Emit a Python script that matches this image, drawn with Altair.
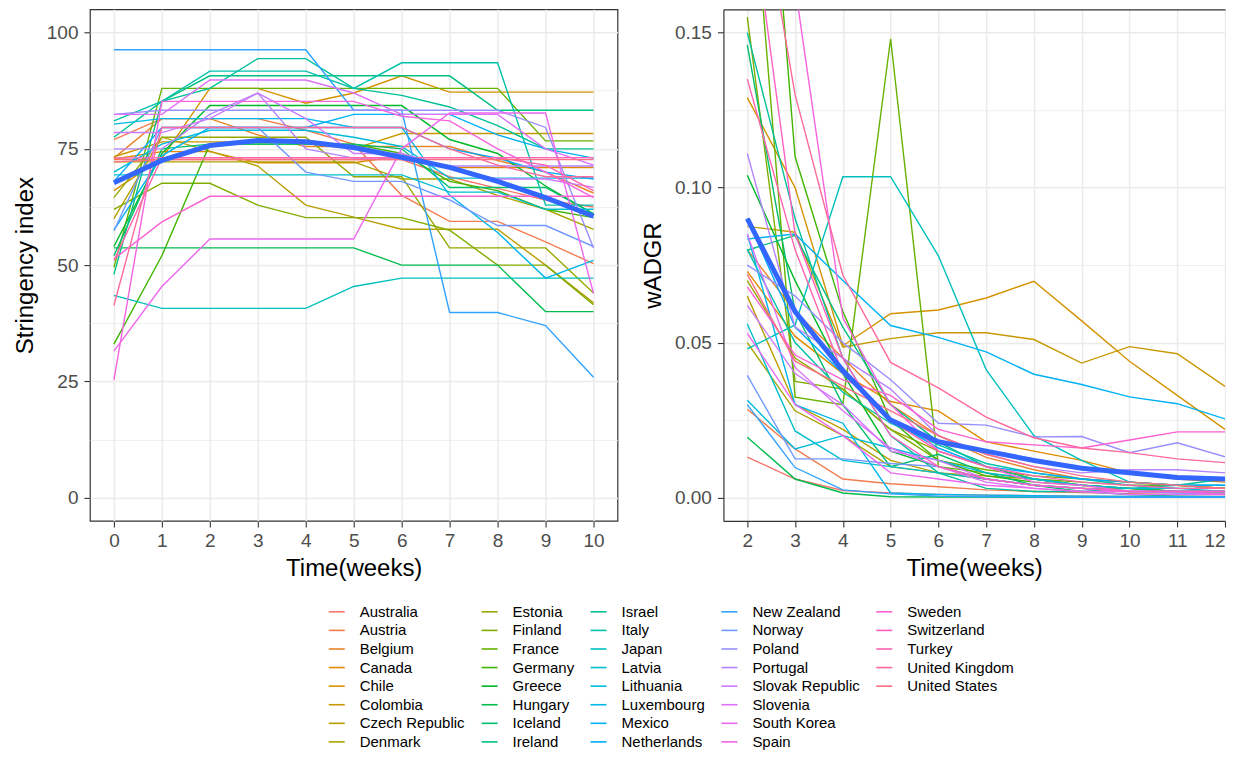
import math
import altair as alt
import pandas as pd

# ---------------- data ----------------
countries = ["Australia", "Austria", "Belgium", "Canada", "Chile", "Colombia",
             "Czech Republic", "Denmark", "Estonia", "Finland", "France", "Germany",
             "Greece", "Hungary", "Iceland", "Ireland", "Israel", "Italy", "Japan",
             "Latvia", "Lithuania", "Luxembourg", "Mexico", "Netherlands",
             "New Zealand", "Norway", "Poland", "Portugal", "Slovak Republic",
             "Slovenia", "South Korea", "Spain", "Sweden", "Switzerland", "Turkey",
             "United Kingdom", "United States"]

weeks_si = [0, 1, 2, 3, 4, 5, 6, 7, 8, 9, 10]
weeks_gr = [2, 3, 4, 5, 6, 7, 8, 9, 10, 11, 12]

# Stringency index by week (0..10)
si_australia = [72.7, 72.7, 72.7, 72.7, 72.7, 72.7, 72.7, 69.0, 66.5, 64.0, 62.5]
si_austria = [77.0, 81.5, 81.5, 81.5, 79.0, 76.0, 65.0, 59.4, 59.4, 55.0, 50.3]
si_belgium = [73.0, 81.5, 81.5, 78.0, 75.5, 75.5, 75.5, 75.5, 72.5, 70.0, 65.5]
si_canada = [72.8, 74.4, 74.4, 72.0, 72.0, 72.0, 73.5, 71.0, 71.0, 71.0, 71.0]
si_chile = [66.0, 73.0, 88.0, 88.0, 84.8, 87.0, 90.7, 87.2, 87.2, 87.2, 87.2]
si_colombia = [73.3, 76.5, 76.5, 76.5, 76.5, 75.0, 78.3, 78.3, 78.3, 78.3, 78.3]
si_czech = [60.0, 77.5, 74.5, 71.3, 62.9, 60.3, 57.7, 57.7, 57.7, 50.0, 41.9]
si_denmark = [72.2, 72.2, 72.2, 72.2, 72.2, 72.2, 68.5, 68.5, 65.0, 62.0, 57.7]
si_estonia = [64.5, 77.5, 77.5, 77.5, 77.5, 69.0, 69.0, 53.7, 53.7, 53.7, 44.0]
si_finland = [62.0, 67.6, 67.6, 62.9, 60.2, 60.2, 60.2, 57.5, 50.0, 50.0, 41.5]
si_france = [49.5, 88.0, 88.0, 88.0, 88.0, 88.0, 88.0, 88.0, 88.0, 76.7, 76.7]
si_germany = [33.0, 52.0, 76.0, 76.0, 76.0, 76.0, 74.0, 68.0, 66.0, 62.0, 60.2]
si_greece = [54.0, 74.0, 84.3, 84.3, 84.3, 84.3, 84.3, 77.0, 74.0, 67.0, 61.0]
si_hungary = [53.7, 53.7, 53.7, 53.7, 53.7, 53.7, 50.0, 50.0, 50.0, 40.0, 40.0]
si_iceland = [52.0, 75.0, 76.0, 76.0, 76.0, 76.0, 75.0, 66.7, 66.7, 66.7, 61.0]
si_ireland = [48.0, 85.2, 90.7, 90.7, 90.7, 90.7, 90.7, 90.7, 83.3, 83.3, 83.3]
si_israel = [77.5, 85.2, 88.0, 94.4, 94.4, 88.0, 86.5, 84.0, 80.0, 75.0, 75.0]
si_italy = [81.0, 85.2, 91.7, 91.7, 91.7, 88.0, 93.5, 93.5, 93.5, 62.9, 62.9]
si_japan = [43.5, 40.7, 40.7, 40.7, 40.7, 45.4, 47.2, 47.2, 47.2, 47.2, 47.2]
si_latvia = [69.4, 69.4, 69.4, 69.4, 69.4, 69.4, 69.4, 65.7, 65.7, 62.0, 62.0]
si_lithuania = [70.0, 76.0, 79.0, 79.0, 79.0, 77.5, 75.5, 68.7, 68.7, 68.7, 68.7]
si_luxembourg = [80.3, 81.5, 81.5, 81.5, 81.5, 79.6, 79.6, 65.0, 57.0, 47.2, 51.0]
si_mexico = [57.5, 73.5, 79.6, 79.6, 79.6, 82.4, 82.4, 82.4, 78.0, 75.0, 73.0]
si_netherlands = [68.0, 79.6, 79.6, 79.6, 79.6, 79.6, 79.6, 75.0, 73.0, 70.0, 68.5]
si_new_zealand = [96.3, 96.3, 96.3, 96.3, 96.3, 83.3, 83.3, 39.8, 39.8, 37.0, 25.9]
si_norway = [57.4, 79.6, 79.6, 79.6, 70.0, 68.0, 68.0, 64.0, 58.5, 58.5, 54.0]
si_poland = [82.4, 83.3, 83.3, 83.3, 83.3, 83.3, 83.3, 83.3, 83.3, 79.6, 53.7]
si_portugal = [75.0, 75.0, 82.4, 87.0, 75.0, 73.0, 73.0, 71.3, 71.3, 71.3, 71.3]
si_slovak = [78.5, 78.5, 81.5, 87.0, 81.5, 74.0, 74.0, 71.0, 68.5, 68.5, 66.7]
si_slovenia = [82.4, 82.4, 89.8, 89.8, 89.8, 87.0, 82.4, 82.4, 82.4, 75.0, 71.5]
si_south_korea = [31.5, 45.4, 55.6, 55.6, 55.6, 55.6, 75.0, 82.7, 82.7, 82.7, 43.9]
si_spain = [25.3, 85.2, 85.2, 85.2, 85.2, 85.2, 82.0, 81.0, 75.0, 70.0, 64.5]
si_sweden = [51.3, 59.3, 64.8, 64.8, 64.8, 64.8, 64.8, 64.8, 64.8, 64.8, 64.8]
si_switzerland = [73.0, 73.1, 73.1, 73.1, 73.1, 73.1, 73.1, 73.1, 73.1, 73.1, 73.1]
si_turkey = [51.0, 73.1, 73.1, 73.1, 73.1, 73.1, 73.1, 73.1, 73.1, 71.5, 66.0]
si_uk = [41.3, 79.6, 79.6, 79.6, 79.6, 79.6, 79.6, 75.0, 71.5, 69.0, 69.0]
si_us = [72.2, 72.7, 72.7, 72.7, 72.7, 72.7, 72.7, 72.7, 72.7, 72.7, 72.7]
si_mean = [67.7, 72.5, 75.7, 76.8, 76.5, 75.3, 73.2, 71.0, 68.0, 64.5, 60.5]

# wADGR by week (2..12)
gr_australia = [0.0131, 0.0060, 0.0023, 0.0015, 0.0010, 0.0008, 0.0006, 0.0005, 0.0004, 0.0004, 0.0003]
gr_austria = [0.0285, 0.0157, 0.0060, 0.0045, 0.0035, 0.0025, 0.0020, 0.0016, 0.0013, 0.0010, 0.0010]
gr_belgium = [0.080, 0.060, 0.045, 0.030, 0.020, 0.013, 0.009, 0.006, 0.005, 0.004, 0.003]
gr_canada = [0.073, 0.052, 0.040, 0.031, 0.028, 0.018, 0.015, 0.012, 0.008, 0.006, 0.005]
gr_chile = [0.129, 0.100, 0.049, 0.0593, 0.0605, 0.0644, 0.0698, 0.057, 0.044, 0.033, 0.022]
gr_colombia = [0.0875, 0.0856, 0.0485, 0.0513, 0.0532, 0.0532, 0.051, 0.0434, 0.0487, 0.0464, 0.0359]
gr_czech = [0.065, 0.030, 0.022, 0.012, 0.008, 0.006, 0.004, 0.003, 0.003, 0.002, 0.002]
gr_denmark = [0.050, 0.028, 0.020, 0.010, 0.008, 0.007, 0.006, 0.004, 0.003, 0.002, 0.002]
gr_estonia = [0.070, 0.045, 0.035, 0.022, 0.015, 0.010, 0.006, 0.004, 0.003, 0.002, 0.001]
gr_finland = [0.155, 0.0375, 0.0350, 0.022, 0.012, 0.009, 0.007, 0.006, 0.005, 0.004, 0.003]
gr_france = [0.220, 0.0324, 0.030, 0.148, 0.010, 0.008, 0.006, 0.005, 0.004, 0.004, 0.003]
gr_germany = [0.300, 0.110, 0.060, 0.025, 0.012, 0.007, 0.005, 0.004, 0.003, 0.002, 0.002]
gr_greece = [0.104, 0.070, 0.040, 0.015, 0.010, 0.006, 0.004, 0.003, 0.002, 0.002, 0.002]
gr_hungary = [0.0195, 0.0060, 0.0015, 0.0003, 0.0002, 0.0002, 0.0001, 0.0001, 0.0001, 0.0001, 0.0001]
gr_iceland = [0.146, 0.060, 0.030, 0.010, 0.014, 0.008, 0.004, 0.002, 0.001, 0.0005, 0.0003]
gr_ireland = [0.0798, 0.0846, 0.055, 0.030, 0.018, 0.010, 0.006, 0.004, 0.003, 0.002, 0.002]
gr_israel = [0.150, 0.090, 0.045, 0.020, 0.008, 0.003, 0.002, 0.002, 0.003, 0.004, 0.006]
gr_italy = [0.080, 0.050, 0.034, 0.024, 0.017, 0.011, 0.008, 0.006, 0.004, 0.003, 0.003]
gr_japan = [0.048, 0.0557, 0.1035, 0.1035, 0.078, 0.0413, 0.020, 0.012, 0.005, 0.004, 0.004]
gr_latvia = [0.056, 0.0215, 0.012, 0.010, 0.008, 0.006, 0.004, 0.003, 0.002, 0.002, 0.002]
gr_lithuania = [0.0314, 0.0157, 0.020, 0.016, 0.012, 0.008, 0.006, 0.004, 0.003, 0.003, 0.002]
gr_luxembourg = [0.085, 0.030, 0.024, 0.0015, 0.0010, 0.0008, 0.0006, 0.0005, 0.0004, 0.0003, 0.0003]
gr_mexico = [0.0834, 0.085, 0.070, 0.0555, 0.0517, 0.047, 0.0398, 0.0365, 0.0325, 0.0303, 0.0254]
gr_netherlands = [0.090, 0.055, 0.040, 0.025, 0.016, 0.010, 0.008, 0.006, 0.005, 0.004, 0.004]
gr_new_zealand = [0.030, 0.0097, 0.0025, 0.0012, 0.0005, 0.0003, 0.0002, 0.0001, 0.0001, 0.0001, 0.0001]
gr_norway = [0.0394, 0.0125, 0.0125, 0.0110, 0.0100, 0.0060, 0.0040, 0.0030, 0.0020, 0.0015, 0.0012]
gr_poland = [0.075, 0.065, 0.050, 0.038, 0.024, 0.0234, 0.0196, 0.0197, 0.0145, 0.0177, 0.0132]
gr_portugal = [0.111, 0.055, 0.045, 0.035, 0.020, 0.014, 0.010, 0.008, 0.009, 0.009, 0.008]
gr_slovak = [0.062, 0.040, 0.030, 0.015, 0.012, 0.006, 0.004, 0.003, 0.002, 0.002, 0.002]
gr_slovenia = [0.085, 0.042, 0.028, 0.016, 0.010, 0.005, 0.003, 0.002, 0.001, 0.001, 0.001]
gr_south_korea = [0.053, 0.030, 0.020, 0.008, 0.006, 0.004, 0.003, 0.002, 0.002, 0.002, 0.002]
gr_spain = [0.250, 0.165, 0.058, 0.030, 0.015, 0.010, 0.005, 0.004, 0.002, 0.002, 0.001]
gr_sweden = [0.068, 0.046, 0.038, 0.033, 0.022, 0.018, 0.017, 0.016, 0.0186, 0.0212, 0.0212]
gr_switzerland = [0.200, 0.085, 0.045, 0.020, 0.010, 0.006, 0.004, 0.003, 0.002, 0.002, 0.002]
gr_turkey = [0.135, 0.080, 0.040, 0.025, 0.015, 0.010, 0.007, 0.005, 0.004, 0.003, 0.003]
gr_uk = [0.220, 0.130, 0.0718, 0.0436, 0.0354, 0.026, 0.0193, 0.016, 0.0145, 0.0125, 0.0113]
gr_us = [0.072, 0.044, 0.036, 0.028, 0.020, 0.014, 0.010, 0.007, 0.005, 0.004, 0.003]
gr_mean = [0.090, 0.060, 0.041, 0.025, 0.018, 0.015, 0.012, 0.0095, 0.008, 0.0065, 0.006]

si_series = [si_australia, si_austria, si_belgium, si_canada, si_chile, si_colombia,
             si_czech, si_denmark, si_estonia, si_finland, si_france, si_germany,
             si_greece, si_hungary, si_iceland, si_ireland, si_israel, si_italy, si_japan,
             si_latvia, si_lithuania, si_luxembourg, si_mexico, si_netherlands,
             si_new_zealand, si_norway, si_poland, si_portugal, si_slovak, si_slovenia,
             si_south_korea, si_spain, si_sweden, si_switzerland, si_turkey, si_uk, si_us]
gr_series = [gr_australia, gr_austria, gr_belgium, gr_canada, gr_chile, gr_colombia,
             gr_czech, gr_denmark, gr_estonia, gr_finland, gr_france, gr_germany,
             gr_greece, gr_hungary, gr_iceland, gr_ireland, gr_israel, gr_italy, gr_japan,
             gr_latvia, gr_lithuania, gr_luxembourg, gr_mexico, gr_netherlands,
             gr_new_zealand, gr_norway, gr_poland, gr_portugal, gr_slovak, gr_slovenia,
             gr_south_korea, gr_spain, gr_sweden, gr_switzerland, gr_turkey, gr_uk, gr_us]

x_si_breaks = [0, 1, 2, 3, 4, 5, 6, 7, 8, 9, 10]
y_si_breaks = [0, 25, 50, 75, 100]
x_gr_breaks = [2, 3, 4, 5, 6, 7, 8, 9, 10, 11, 12]
y_gr_breaks = [0.0, 0.05, 0.10, 0.15]


# ---------------- ggplot hue palette ----------------
def hcl_hex(h, c=100.0, l=65.0):
    hr = math.radians(h)
    U, V = c * math.cos(hr), c * math.sin(hr)
    wu, wv = 0.1978398, 0.4683363
    Y = 100.0 * ((l + 16) / 116) ** 3 if l > 8 else 100.0 * l / 903.3
    u = U / (13 * l) + wu
    v = V / (13 * l) + wv
    X = 9.0 * Y * u / (4 * v)
    Z = -X / 3 - 5 * Y + 3 * Y / v
    X, Y, Z = X / 100, Y / 100, Z / 100
    rgb = [3.240479 * X - 1.537150 * Y - 0.498535 * Z,
           -0.969256 * X + 1.875992 * Y + 0.041556 * Z,
           0.055648 * X - 0.204043 * Y + 1.057311 * Z]
    out = []
    for t in rgb:
        t = 12.92 * t if t <= 0.0031308 else 1.055 * t ** (1 / 2.4) - 0.055
        out.append(int(round(min(1, max(0, t)) * 255)))
    return "#%02X%02X%02X" % tuple(out)


n = len(countries)
palette = [hcl_hex(15 + 360.0 * i / n) for i in range(n)]

# legend: 8 rows x 5 columns filled column by column; empty slots padded
NROW, NCOL = 8, 5
n_blank = NROW * NCOL - n
leg_domain = countries + [" " * (k + 1) for k in range(n_blank)]
leg_range = palette + ["rgba(0,0,0,0)"] * n_blank

# ---------------- tables ----------------
rows_si = [{"country": ctry, "week": w, "value": v}
           for ctry, ser in zip(countries, si_series) for w, v in zip(weeks_si, ser)]
rows_gr = [{"country": ctry, "week": w, "value": v}
           for ctry, ser in zip(countries, gr_series) for w, v in zip(weeks_gr, ser)]
df_si = pd.DataFrame(rows_si)
df_gr = pd.DataFrame(rows_gr)
df_si_mean = pd.DataFrame({"week": weeks_si, "value": si_mean})
df_gr_mean = pd.DataFrame({"week": weeks_gr, "value": gr_mean})


def with_minor(breaks):
    vals = list(breaks)
    for a, b in zip(breaks[:-1], breaks[1:]):
        vals.append((a + b) / 2)
    return sorted(vals)


GRID = "#EBEBEB"
BORDER = "#333333"


def make_axis(values, major_test, fmt, title_pad, label_pad, **kw):
    minor = "!(" + major_test + ")"
    return alt.Axis(
        values=values,
        format=fmt,
        labelExpr="(" + major_test + ") ? datum.label : ''",
        labelOverlap=False,
        labelBound=False,
        tickOpacity={"condition": {"test": minor, "value": 0}, "value": 1},
        gridWidth={"condition": {"test": minor, "value": 0.8}, "value": 1.5},
        gridColor=GRID,
        labelPadding=label_pad,
        titlePadding=title_pad,
        **kw,
    )


color_enc = alt.Color(
    "country:N",
    scale=alt.Scale(domain=leg_domain, range=leg_range),
    legend=alt.Legend(
        title=None, orient="none", legendX=238, legendY=594, columns=NCOL,
        symbolType="stroke", symbolSize=256, symbolStrokeWidth=1.6,
        labelFontSize=15, labelFont="Liberation Sans", labelColor="black",
        labelOffset=14, rowPadding=1.6, columnPadding=12, padding=0,
        labelLimit=0, symbolLimit=100,
    ),
)

# ---------------- left panel ----------------
x_si = alt.X("week:Q", title="Time(weeks)",
             scale=alt.Scale(domain=[-0.5, 10.5], nice=False, zero=False),
             axis=make_axis(with_minor(x_si_breaks), "datum.value % 1 == 0", "d", 6, 5,
                            labelFlush=False))
y_si = alt.Y("value:Q", title="Stringency index",
             scale=alt.Scale(domain=[-5, 105], nice=False, zero=False),
             axis=make_axis(with_minor(y_si_breaks), "datum.value % 25 == 0", "d", 9, 6))

left = alt.layer(
    alt.Chart(df_si).mark_line(strokeWidth=1.4, clip=True).encode(
        x=x_si, y=y_si, color=color_enc),
    alt.Chart(df_si_mean).mark_line(strokeWidth=5, color="#3366FF", clip=True).encode(
        x=x_si, y=y_si),
).properties(width=528, height=512,
             view=alt.ViewBackground(stroke=BORDER, strokeWidth=1.2))

# ---------------- right panel (cut at the right edge, no right border) ----------------
x_gr = alt.X("week:Q", title="Time(weeks)",
             scale=alt.Scale(domain=[1.5, 12.0], nice=False, zero=False),
             axis=make_axis(with_minor(x_gr_breaks), "datum.value % 1 == 0", "d", 6, 5,
                            labelFlush=True, domain=True, domainColor=BORDER,
                            domainWidth=1.2))
x_gr_top = alt.X("week:Q", title=None,
                 scale=alt.Scale(domain=[1.5, 12.0], nice=False, zero=False),
                 axis=alt.Axis(orient="top", labels=False, ticks=False, grid=False,
                               domain=True, domainColor=BORDER, domainWidth=1.2,
                               title=None))
y_gr = alt.Y("value:Q", title="wADGR",
             scale=alt.Scale(domain=[-0.0075, 0.1575], nice=False, zero=False),
             axis=make_axis(with_minor(y_gr_breaks), "round(datum.value * 1000) % 50 == 0",
                            ".2f", 9, 6, domain=True, domainColor=BORDER, domainWidth=1.2))

right = alt.layer(
    alt.Chart(df_gr).mark_line(strokeWidth=1.4, clip=True).encode(
        x=x_gr, y=y_gr, color=color_enc),
    alt.Chart(df_gr_mean).mark_line(strokeWidth=5, color="#3366FF", clip=True).encode(
        x=x_gr_top, y=y_gr),
).resolve_axis(x="independent").properties(
    width=502, height=512,
    view=alt.ViewBackground(strokeOpacity=0))

chart = alt.hconcat(left, right, spacing=23).properties(
    padding={"left": 4, "top": 0, "right": 0, "bottom": 0},
    background="white",
).configure_view(
    stroke=BORDER, strokeWidth=1.2,
).configure_axis(
    labelFont="Liberation Sans", titleFont="Liberation Sans",
    labelFontSize=19, titleFontSize=24, labelColor="#4D4D4D",
    titleColor="black", titleFontWeight="normal",
    tickColor=BORDER, tickSize=6, tickWidth=1.1, domain=False,
)

chart.save("out.html", embed_options={"renderer": "svg", "actions": False})
